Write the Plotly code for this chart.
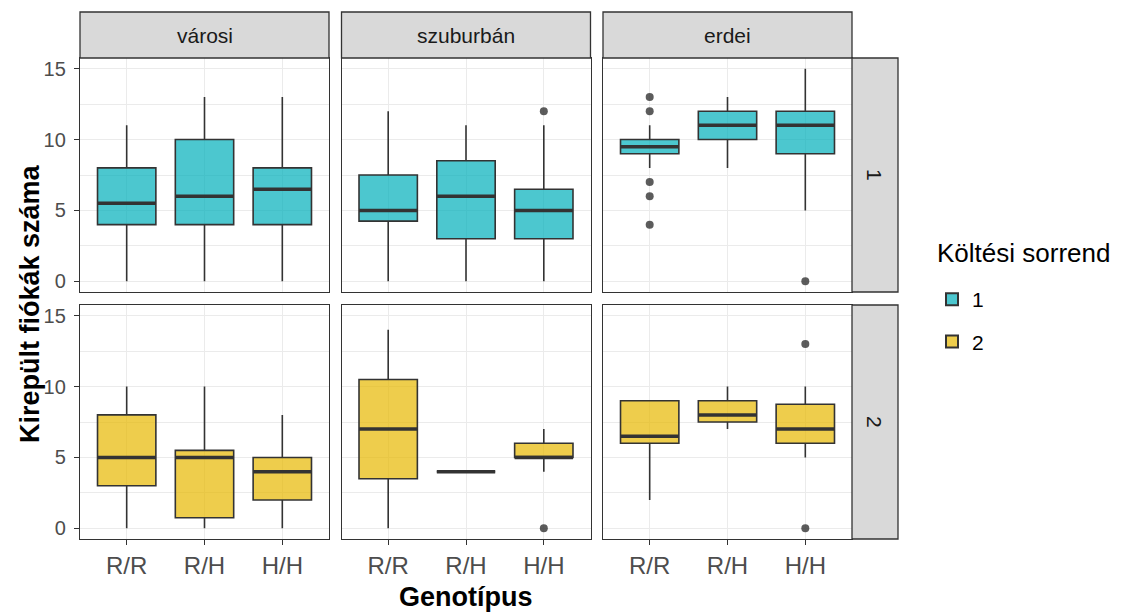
import plotly.graph_objects as go

W, H = 1123, 613

habitats = ["városi", "szuburbán", "erdei"]
genotypes = ["R/R", "R/H", "H/H"]
orders = ["1", "2"]

# box statistics [order][habitat][genotype]
lower = [[[0, 0, 0], [0, 0, 0], [8, 8, 5]],
         [[0, 0, 0], [0, 4, 4], [2, 7, 5]]]
q1 = [[[4, 4, 4], [4.25, 3, 3], [9, 10, 9]],
      [[3, 0.75, 2], [3.5, 4, 5], [6, 7.5, 6]]]
median = [[[5.5, 6, 6.5], [5, 6, 5], [9.5, 11, 11]],
          [[5, 5, 4], [7, 4, 5], [6.5, 8, 7]]]
q3 = [[[8, 10, 8], [7.5, 8.5, 6.5], [10, 12, 12]],
      [[8, 5.5, 5], [10.5, 4, 6], [9, 9, 8.75]]]
upper = [[[11, 13, 13], [12, 11, 11], [11, 13, 15]],
         [[10, 10, 8], [14, 4, 7], [9, 10, 10]]]

# outliers
out_order = [0, 0, 0, 0, 0, 0, 0, 1, 1, 1]
out_habitat = [1, 2, 2, 2, 2, 2, 2, 1, 2, 2]
out_geno = [2, 0, 0, 0, 0, 0, 2, 2, 2, 2]
out_value = [12, 13, 12, 7, 6, 4, 0, 0, 13, 0]

fills = ["rgba(0,175,187,0.7)", "rgba(231,184,0,0.7)"]
DARK = "#333333"
GRID = "#EBEBEB"
FONT = "Liberation Sans, Arial, sans-serif"

col_px = [(80, 329), (341.5, 590.5), (603, 852)]
row_px = [(58, 292), (305, 539)]
strip_top = 12
rstrip_x = (852, 898)


def fx(p):
    return p / W


def fy(p):
    return 1 - p / H


fig = go.Figure()
layout_axes = {}
BW = 0.75

for r in range(2):
    for c in range(3):
        idx = r * 3 + c + 1
        xa = "x" if idx == 1 else f"x{idx}"
        ya = "y" if idx == 1 else f"y{idx}"
        xs = list(range(len(genotypes)))
        fig.add_trace(go.Box(
            x=xs, q1=q1[r][c], median=median[r][c], q3=q3[r][c],
            lowerfence=lower[r][c], upperfence=upper[r][c],
            xaxis=xa, yaxis=ya, width=BW, fillcolor=fills[r],
            line=dict(color=DARK, width=1.6), whiskerwidth=0,
            boxpoints=False, name=orders[r], legendgroup=orders[r],
            showlegend=(c == 0), hoverinfo="skip"))
        mx, my = [], []
        for i, m in enumerate(median[r][c]):
            mx += [i - BW / 2, i + BW / 2, None]
            my += [m, m, None]
        fig.add_trace(go.Scatter(
            x=mx, y=my, mode="lines", line=dict(color=DARK, width=3.5),
            xaxis=xa, yaxis=ya, showlegend=False, hoverinfo="skip"))
        ox = [out_geno[k] for k in range(len(out_value))
              if out_order[k] == r and out_habitat[k] == c]
        oy = [out_value[k] for k in range(len(out_value))
              if out_order[k] == r and out_habitat[k] == c]
        if ox:
            fig.add_trace(go.Scatter(
                x=ox, y=oy, mode="markers",
                marker=dict(color="rgba(51,51,51,0.8)", size=8),
                xaxis=xa, yaxis=ya, showlegend=False, hoverinfo="skip"))

        x0, x1 = col_px[c]
        y0, y1 = row_px[r]
        kx = "xaxis" if idx == 1 else f"xaxis{idx}"
        ky = "yaxis" if idx == 1 else f"yaxis{idx}"
        layout_axes[kx] = dict(
            domain=[fx(x0), fx(x1)], anchor=ya, range=[-0.6, 2.6],
            tickmode="array", tickvals=xs, ticktext=genotypes,
            showticklabels=(r == 1), ticks="outside" if r == 1 else "",
            ticklen=5, tickwidth=1.3, tickcolor=DARK,
            tickfont=dict(size=24, color="#4D4D4D", family=FONT),
            showgrid=True, gridcolor=GRID, gridwidth=1.3,
            showline=True, mirror=True, linecolor=DARK, linewidth=1.3,
            zeroline=False, fixedrange=True)
        layout_axes[ky] = dict(
            domain=[fy(y1), fy(y0)], anchor=xa, range=[-0.75, 15.75],
            tickmode="array", tickvals=[0, 5, 10, 15],
            showticklabels=(c == 0), ticks="outside" if c == 0 else "",
            ticklen=5, tickwidth=1.3, tickcolor=DARK,
            ticklabelstandoff=4,
            tickfont=dict(size=20, color="#4D4D4D", family=FONT),
            showgrid=True, gridcolor=GRID, gridwidth=1.3,
            minor=dict(tickvals=[2.5, 7.5, 12.5], showgrid=True,
                       gridcolor=GRID, gridwidth=0.7, ticks=""),
            showline=True, mirror=True, linecolor=DARK, linewidth=1.3,
            zeroline=False, fixedrange=True)

shapes = []
annotations = []
for c, hname in enumerate(habitats):
    x0, x1 = col_px[c]
    shapes.append(dict(type="rect", xref="paper", yref="paper",
                       x0=fx(x0), x1=fx(x1), y0=fy(row_px[0][0]), y1=fy(strip_top),
                       fillcolor="#D9D9D9", line=dict(color=DARK, width=1.3),
                       layer="above"))
    annotations.append(dict(text=hname, xref="paper", yref="paper",
                            x=fx((x0 + x1) / 2), y=fy((strip_top + row_px[0][0]) / 2),
                            showarrow=False, xanchor="center", yanchor="middle",
                            font=dict(size=21, color="#1A1A1A", family=FONT)))
for r, oname in enumerate(orders):
    y0, y1 = row_px[r]
    shapes.append(dict(type="rect", xref="paper", yref="paper",
                       x0=fx(rstrip_x[0]), x1=fx(rstrip_x[1]), y0=fy(y1), y1=fy(y0),
                       fillcolor="#D9D9D9", line=dict(color=DARK, width=1.3),
                       layer="above"))
    annotations.append(dict(text=oname, xref="paper", yref="paper",
                            x=fx(sum(rstrip_x) / 2), y=fy((y0 + y1) / 2),
                            showarrow=False, textangle=90,
                            xanchor="center", yanchor="middle",
                            font=dict(size=21, color="#1A1A1A", family=FONT)))

annotations.append(dict(text="<b>Kirepült fiókák száma</b>", xref="paper", yref="paper",
                        x=fx(30), y=fy(304),
                        showarrow=False, textangle=-90, xanchor="center", yanchor="middle",
                        font=dict(size=27, color="#000000", family=FONT)))
annotations.append(dict(text="<b>Genotípus</b>", xref="paper", yref="paper",
                        x=fx((col_px[0][0] + col_px[2][1]) / 2), y=fy(597),
                        showarrow=False, xanchor="center", yanchor="middle",
                        font=dict(size=27, color="#000000", family=FONT)))
annotations.append(dict(text="Költési sorrend", xref="paper", yref="paper",
                        x=fx(935), y=fy(253), showarrow=False,
                        xanchor="left", yanchor="middle",
                        font=dict(size=26, color="#000000", family=FONT)))

fig.update_layout(
    width=W, height=H,
    margin=dict(l=0, r=0, t=0, b=0),
    paper_bgcolor="white", plot_bgcolor="white",
    font=dict(family=FONT),
    shapes=shapes, annotations=annotations,
    showlegend=True,
    legend=dict(x=fx(932), y=fy(279), xanchor="left", yanchor="top",
                font=dict(size=21, color="#000000", family=FONT),
                traceorder="grouped", tracegroupgap=12,
                bgcolor="rgba(0,0,0,0)", itemsizing="constant"),
    hovermode=False,
    **layout_axes,
)

fig.write_html("out.html", config={"displayModeBar": False},
               post_script="document.body.style.margin='0';")
